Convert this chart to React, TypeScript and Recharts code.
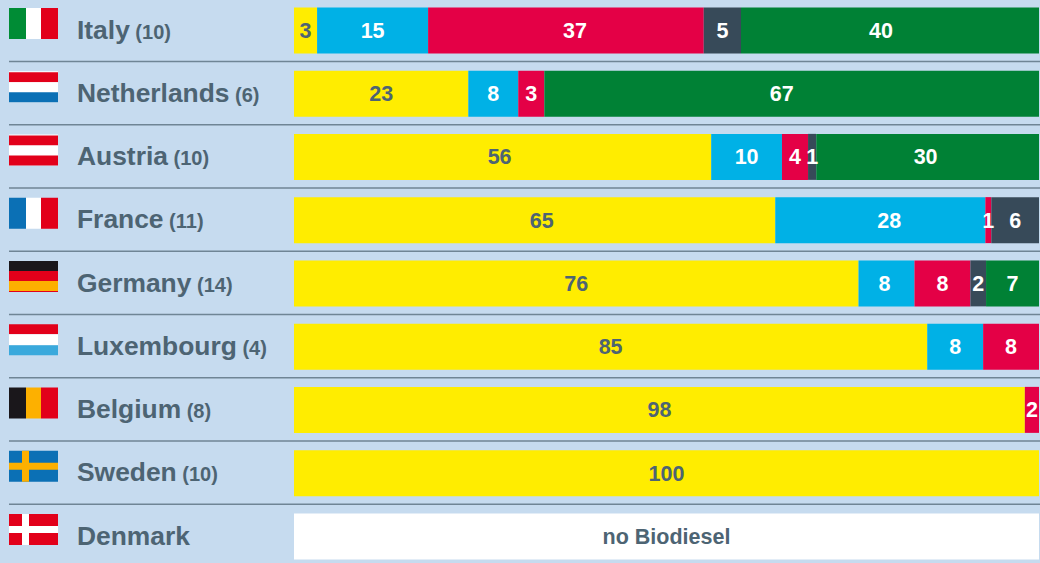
import React from 'react';
import { BarChart, Bar, XAxis, YAxis, LabelList } from 'recharts';

const countries = ['Italy', 'Netherlands', 'Austria', 'France', 'Germany', 'Luxembourg', 'Belgium', 'Sweden', 'Denmark'];
const counts = [10, 6, 10, 11, 14, 4, 8, 10, null];

// shares as measured from the segment widths
const yellowShares = [3.1, 23.4, 56.0, 64.6, 75.7, 85.0, 98.1, 100, 0];
const blueShares = [14.9, 6.7, 9.5, 28.2, 7.5, 7.5, 0, 0, 0];
const redShares = [37.0, 3.5, 3.5, 0.8, 7.5, 7.5, 1.9, 0, 0];
const slateShares = [5.0, 0, 1.1, 6.4, 2.1, 0, 0, 0, 0];
const greenShares = [40.0, 66.4, 29.9, 0, 7.1, 0, 0, 0, 0];
const noneShares = [0, 0, 0, 0, 0, 0, 0, 0, 100];

// numbers as printed on the segments
const yellowLabels = [3, 23, 56, 65, 76, 85, 98, 100, null];
const blueLabels = [15, 8, 10, 28, 8, 8, null, null, null];
const redLabels = [37, 3, 4, 1, 8, 8, 2, null, null];
const slateLabels = [5, null, 1, 6, 2, null, null, null, null];
const greenLabels = [40, 67, 30, null, 7, null, null, null, null];
const noneLabels = [null, null, null, null, null, null, null, null, 'no Biodiesel'];

// the printed numbers are not always centred in their segment (row index -> px)
const yellowNudge: Record<number, number> = { 2: -3, 3: 7 };
const blueNudge: Record<number, number> = { 3: 9, 4: -2 };
const redNudge: Record<number, number> = { 0: 9 };
const greenNudge: Record<number, number> = { 0: -9, 1: -10, 2: -2, 4: -2 };

const FONT = '"Liberation Sans", Arial, sans-serif';
const BG = '#c6dbef';
const TEXT = '#4d6473';
const RED = '#e2001a';
const BLUE = '#0b70b5';
const ORANGE = '#fdb000';
const GREEN = '#008c35';
const WHITE = '#ffffff';
const BLACK = '#1a171b';
const SKY = '#3aa9dc';

const chartData = countries.map((country, i) => ({
  country,
  yellow: yellowShares[i],
  blue: blueShares[i],
  red: redShares[i],
  slate: slateShares[i],
  green: greenShares[i],
  none: noneShares[i],
  yellowLabel: yellowLabels[i],
  blueLabel: blueLabels[i],
  redLabel: redLabels[i],
  slateLabel: slateLabels[i],
  greenLabel: greenLabels[i],
  noneLabel: noneLabels[i],
}));

const FLAG_X = 9;
const FLAG_W = 49;
const FLAG_H = 31;
const FLAG_TOP = -22;

const Flag = ({ name, y }: { name: string; y: number }) => {
  const top = y + FLAG_TOP;
  const vertical = (a: string, b: string, c: string) => (
    <>
      <rect x={FLAG_X} y={top} width={17} height={FLAG_H} fill={a} />
      <rect x={FLAG_X + 17} y={top} width={15} height={FLAG_H} fill={b} />
      <rect x={FLAG_X + 32} y={top} width={17} height={FLAG_H} fill={c} />
    </>
  );
  // start: row of the first stripe, under: colour showing through the 1px left over
  const horizontal = (a: string, b: string, c: string, start: number, under: string) => (
    <>
      <rect x={FLAG_X} y={top} width={FLAG_W} height={FLAG_H} fill={under} />
      <rect x={FLAG_X} y={top + start} width={FLAG_W} height={10} fill={a} />
      <rect x={FLAG_X} y={top + start + 10} width={FLAG_W} height={10} fill={b} />
      <rect x={FLAG_X} y={top + start + 20} width={FLAG_W} height={10} fill={c} />
    </>
  );
  const cross = (field: string, bar: string) => (
    <>
      <rect x={FLAG_X} y={top} width={FLAG_W} height={FLAG_H} fill={field} />
      <rect x={FLAG_X + 13} y={top} width={7} height={FLAG_H} fill={bar} />
      <rect x={FLAG_X} y={top + 12} width={FLAG_W} height={7} fill={bar} />
    </>
  );
  switch (name) {
    case 'Italy': return vertical(GREEN, WHITE, RED);
    case 'Netherlands': return horizontal(RED, WHITE, BLUE, 1, WHITE);
    case 'Austria': return horizontal(RED, WHITE, RED, 1, WHITE);
    case 'France': return vertical(BLUE, WHITE, RED);
    case 'Germany': return horizontal(BLACK, RED, ORANGE, 0, RED);
    case 'Luxembourg': return (
      <>
        <rect x={FLAG_X} y={top} width={FLAG_W} height={10} fill={RED} />
        <rect x={FLAG_X} y={top + 10} width={FLAG_W} height={11} fill={WHITE} />
        <rect x={FLAG_X} y={top + 21} width={FLAG_W} height={10} fill={SKY} />
      </>
    );
    case 'Belgium': return vertical(BLACK, ORANGE, RED);
    case 'Sweden': return cross(BLUE, ORANGE);
    default: return cross(RED, WHITE);
  }
};

const CountryTick = (props: any) => {
  const { y, payload, index } = props;
  const count = counts[index];
  return (
    <g>
      <Flag name={payload.value} y={y} />
      <text x={77} y={y + 8.5} fontFamily={FONT} fontWeight={700} fontSize={26.4} fill={TEXT}>
        {payload.value}
        {count !== null && (
          <tspan fontSize={20}>{` (${count})`}</tspan>
        )}
      </text>
      {index < countries.length - 1 && (
        <line x1={9} x2={1040} y1={y + 31.5} y2={y + 31.5} stroke="#6f8595" strokeWidth={1.5} />
      )}
    </g>
  );
};

const segmentLabel = (fill: string, nudge: Record<number, number> = {}) => (props: any) => {
  const { x, y, width, height, value, index } = props;
  if (value === null || value === undefined) return null;
  return (
    <text
      x={x + width / 2 + (nudge[index] ?? 0)}
      y={y + height / 2 + 7.5}
      textAnchor="middle"
      fontFamily={FONT}
      fontWeight={700}
      fontSize={21.5}
      fill={fill}
    >
      {value}
    </text>
  );
};

const App: React.FC = () => {
  return (
    <div style={{ position: 'absolute', left: 0, top: 0, width: 1040, height: 563, overflow: 'hidden', background: BG }}>
      <div style={{ position: 'absolute', left: 0, top: -2 }}>
        <BarChart
          width={1040}
          height={570}
          data={chartData}
          layout="vertical"
          stackOffset="expand"
          barSize={46}
          margin={{ top: 0.375, right: 1, bottom: 0.375, left: 0 }}
        >
          <XAxis type="number" hide domain={[0, 1]} />
          <YAxis
            type="category"
            dataKey="country"
            width={294}
            interval={0}
            axisLine={false}
            tickLine={false}
            tick={CountryTick}
          />
          <Bar dataKey="yellow" stackId="a" fill="#ffed00" isAnimationActive={false}>
            <LabelList dataKey="yellowLabel" content={segmentLabel(TEXT, yellowNudge)} />
          </Bar>
          <Bar dataKey="blue" stackId="a" fill="#00b1e6" isAnimationActive={false}>
            <LabelList dataKey="blueLabel" content={segmentLabel(WHITE, blueNudge)} />
          </Bar>
          <Bar dataKey="red" stackId="a" fill="#e40046" isAnimationActive={false}>
            <LabelList dataKey="redLabel" content={segmentLabel(WHITE, redNudge)} />
          </Bar>
          <Bar dataKey="slate" stackId="a" fill="#374a59" isAnimationActive={false}>
            <LabelList dataKey="slateLabel" content={segmentLabel(WHITE)} />
          </Bar>
          <Bar dataKey="green" stackId="a" fill="#008135" isAnimationActive={false}>
            <LabelList dataKey="greenLabel" content={segmentLabel(WHITE, greenNudge)} />
          </Bar>
          <Bar dataKey="none" stackId="a" fill="#ffffff" isAnimationActive={false}>
            <LabelList dataKey="noneLabel" content={segmentLabel(TEXT)} />
          </Bar>
        </BarChart>
      </div>
    </div>
  );
};

export default App;
